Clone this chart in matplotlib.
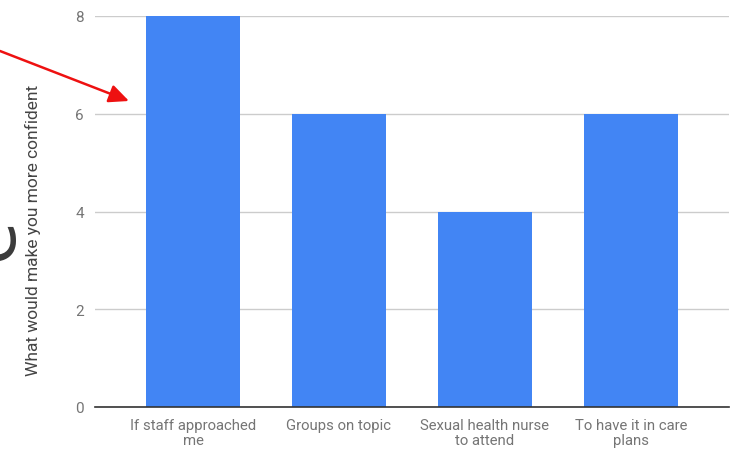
import matplotlib

matplotlib.use("Agg")
import matplotlib.pyplot as plt

categories = ["If staff approached\nme", "Groups on topic",
              "Sexual health nurse\nto attend", "To have it in care\nplans"]
counts = [8, 6, 4, 6]
y_ticks = [0, 2, 4, 6, 8]

plt.rcParams["font.family"] = ["Roboto", "DejaVu Sans"]

fig = plt.figure(figsize=(7.41, 4.52), dpi=100)
W, H = 741, 452
# axes box in pixels: left 95, right 729, top 17, bottom 408
ax = fig.add_axes([95 / W, 1 - 408 / H, (729 - 95) / W, (408 - 17) / H])

x = range(len(categories))
ax.bar(x, counts, width=0.64, color="#4285f4", zorder=3)

pad = 25 / 146
ax.set_xlim(-0.5 - pad, len(categories) - 0.5 + pad)
ax.set_ylim(0, 8)
ax.set_yticks(y_ticks)
ax.set_xticks(list(x))
ax.set_xticklabels(categories, fontsize=10.7, color="#757575", linespacing=1.1)
ax.tick_params(axis="y", labelsize=11, labelcolor="#757575", length=0, pad=8)
ax.tick_params(axis="x", length=0, pad=8)

ax.grid(True, axis="y", color="#cccccc", linewidth=1, zorder=0)
for side in ("top", "right", "left"):
    ax.spines[side].set_visible(False)
ax.spines["bottom"].set_color("#333333")
ax.spines["bottom"].set_linewidth(1.2)
ax.spines["bottom"].set_zorder(4)

fig.text(33 / W, 1 - 230 / H, "What would make you more confident",
         rotation=90, ha="center", va="center", fontsize=12.5, color="#444444")

# large letter bleeding in from the left edge
fig.text(-10 / W, 1 - 238 / H, "e", rotation=90, ha="center", va="center",
         fontsize=58, color="#3a3a3a", family="Open Sans")

# red pointer arrow
fig.add_artist(matplotlib.patches.FancyArrowPatch(
    (0, 1 - 52 / H), (129 / W, 1 - 102 / H), transform=fig.transFigure,
    arrowstyle="-|>,head_length=12,head_width=5.5", color="#ee1111",
    linewidth=1.8, shrinkA=0, shrinkB=0))

fig.savefig("out.png", dpi=100)
